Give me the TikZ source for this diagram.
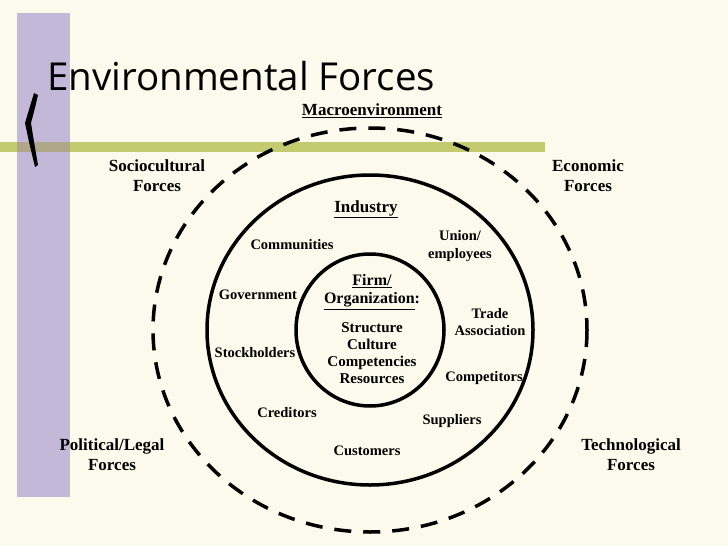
\documentclass[tikz,border=0pt]{standalone}
\usepackage{fontspec}
\setmainfont{Liberation Serif}
\newfontfamily\titlefont{Open Sans}
\definecolor{paper}{RGB}{251,250,236}
\definecolor{lilac}{RGB}{196,184,216}
\definecolor{olive}{RGB}{196,202,112}
\definecolor{overlap}{RGB}{176,166,138}
\begin{document}
\begin{tikzpicture}[x=1pt,y=-1pt,
    lbl/.style={font=\fontsize{14.5}{17}\selectfont\bfseries, align=center, inner sep=0},
    biglbl/.style={lbl, font=\fontsize{17}{20}\selectfont\bfseries},
    ring/.style={line width=3.5pt}]
    \useasboundingbox (0,0) rectangle (728,546);
    \fill[paper] (0,0) rectangle (728,546);
    % bars
    \fill[lilac] (17,13) rectangle (70,497);
    \fill[olive] (0,142) rectangle (545,152);
    \fill[overlap] (17,142) rectangle (70,152);
    \fill (34,93) .. controls (29,108) .. (25,123) .. controls (29,142) .. (35,167)
        -- (38,165) .. controls (34,142) .. (31,123) .. controls (35,108) .. (38,95) -- cycle;
    \node[anchor=base west, inner sep=0, font=\titlefont\fontsize{38.5}{44}\selectfont] (title) at (47,90) {Environmental Forces};
    % circles
    \draw[ring, dash pattern=on 17pt off 12pt] (370,330) ellipse [x radius=217, y radius=202];
    \draw[ring] (370,330) ellipse [x radius=163, y radius=155];
    \draw[ring] (370,330) ellipse [x radius=74, y radius=76];
    % labels
    \node[biglbl] (macro) at (372,111) {\underline{Macroenvironment}};
    \node[biglbl] (socio) at (157,176) {Sociocultural\\Forces};
    \node[biglbl] (econ) at (588,176) {Economic\\Forces};
    \node[biglbl] (polit) at (112,455) {Political/Legal\\Forces};
    \node[biglbl] (tech) at (631,455) {Technological\\Forces};
    \node[biglbl] (industry) at (366,209) {\underline{Industry}};
    \node[lbl] (commun) at (292,245) {Communities};
    \node[lbl, font=\fontsize{14.5}{18}\selectfont\bfseries] (union) at (460,246) {Union/\\employees};
    \node[lbl] (govt) at (258,295) {Government};
    \node[biglbl, font=\fontsize{16}{18}\selectfont\bfseries] (firm) at (372,292) {\underline{Firm/}\\\underline{Organization}:};
    \node[lbl] (trade) at (490,322) {Trade\\Association};
    \node[lbl, font=\fontsize{15}{17}\selectfont\bfseries] (inside) at (372,353) {Structure\\Culture\\Competencies\\Resources};
    \node[lbl] (stock) at (255,353) {Stockholders};
    \node[lbl] (compet) at (484,378) {Competitors};
    \node[lbl] (cred) at (287,413) {Creditors};
    \node[lbl] (suppl) at (452,421) {Suppliers};
    \node[lbl] (cust) at (367,451) {Customers};
\end{tikzpicture}
\end{document}
